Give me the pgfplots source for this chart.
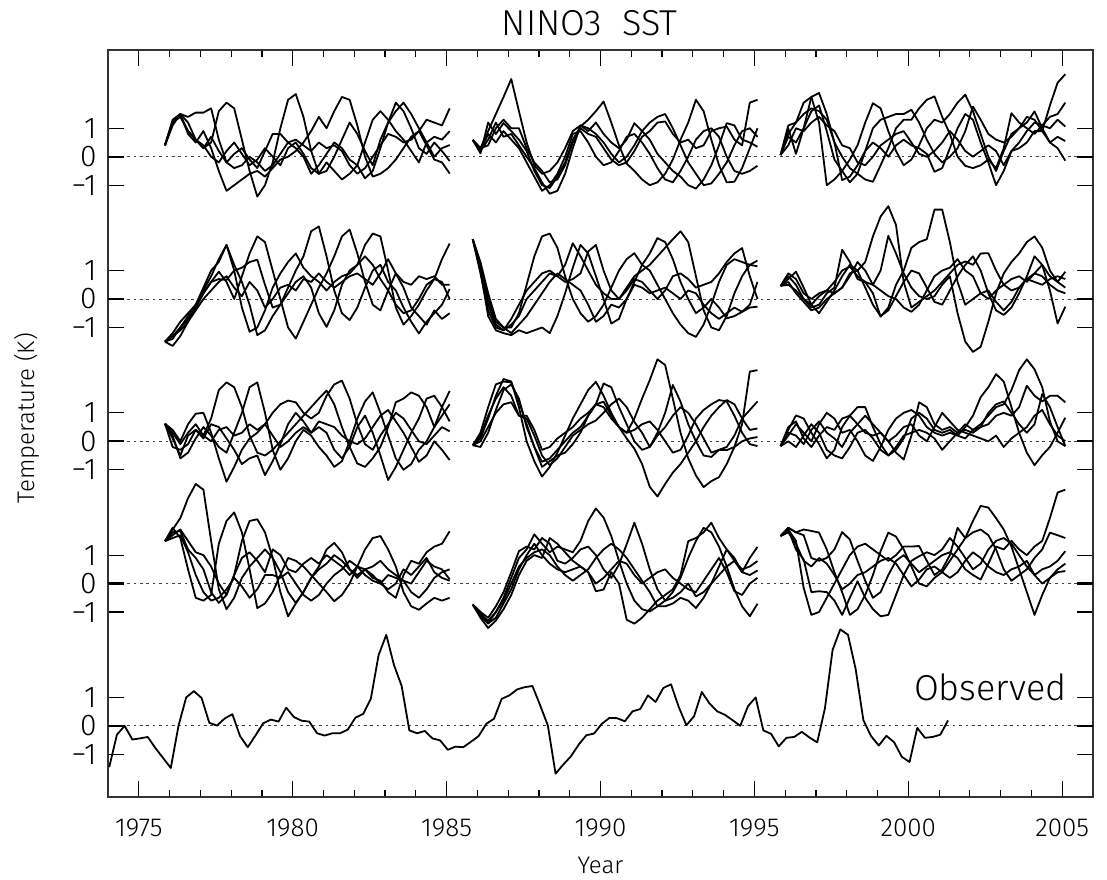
\documentclass[border=0pt]{standalone}
\usepackage{pgfplots}
\pgfplotsset{compat=1.18}
\usepackage{fontspec}
\setmainfont{Fira Sans Light}

% one forecast curve: #1 = start year, #2 = vertical offset of its panel, #3 = quarterly values (K)
\newcommand{\fc}[3]{%
  \addplot[fcline] table[x expr={#1+0.25*\coordindex}, y expr={\thisrowno{0}+#2}, header=false, row sep=\\]{#3};%
}

\begin{document}
\begin{tikzpicture}
\begin{axis}[
  name=ax,
  scale only axis,
  width=492.5pt, height=373.5pt,
  xmin=1974, xmax=2006,
  ymin=-2.5, ymax=23.75,
  /pgf/number format/assume math mode=true,
  axis line style={black!80, line width=0.6pt},
  tick style={black, line width=0.6pt},
  major tick length=8pt,
  minor tick length=3.5pt,
  tick pos=both,
  xtick={1975,1980,1985,1990,1995,2000,2005},
  xticklabels={1975,1980,1985,1990,1995,2000,2005},
  minor x tick num=4,
  ytick={-1,1,4,6,9,11,14,16,19,21},
  yticklabels={−1,1,−1,1,−1,1,−1,1,−1,1},
  extra y ticks={0,5,10,15,20},
  extra y tick labels={0,0,0,0,0},
  extra y tick style={grid=major,
    major grid style={black!75, line width=0.5pt, dash pattern=on 1.3pt off 1.9pt},
    tick style={black, line width=1.2pt}},
  x tick label style={font=\fontsize{13}{13}\selectfont, inner sep=0pt, anchor=north, yshift=-11pt},
  y tick label style={font=\fontsize{15}{15}\selectfont, inner sep=0pt, anchor=east, xshift=-5.5pt},
  xlabel={Year},
  xlabel style={font=\fontsize{12}{12}\selectfont, at={(axis description cs:0.5,0)}, anchor=north, inner sep=0pt, yshift=-30pt},
  ylabel={Temperature (K)},
  ylabel style={font=\fontsize{12}{12}\selectfont, at={(axis description cs:-0.0954,0.507)}, anchor=north, inner sep=0pt},
  title={NINO3\ \ SST},
  title style={font=\fontsize{18}{18}\selectfont, at={(axis description cs:0.489,1)}, anchor=base, inner sep=0pt, yshift=1pt},
  fcline/.style={black, line width=0.9pt, line join=round, mark=none},
]

% ---------- panel 1 (offset 20) ----------
\fc{1975.85}{20}{0.4\\1.2\\1.5\\1.4\\1.55\\1.55\\1.7\\0.6\\-0.2\\-0.4\\-0.3\\0.0\\-0.2\\-0.5\\-0.3\\0.1\\0.5\\0.6\\0.4\\0.2\\0.5\\0.3\\0.4\\0.2\\-0.3\\-0.6\\-0.4\\0.0\\0.4\\0.8\\0.7\\0.5\\0.6\\0.9\\1.3\\1.2\\1.1\\1.7\\}
\fc{1975.85}{20}{0.4\\1.2\\1.45\\0.9\\0.6\\0.3\\0.5\\1.6\\1.9\\1.7\\0.6\\-0.5\\-1.4\\-1.0\\-0.2\\1.0\\2.0\\2.2\\1.4\\0.2\\-0.6\\-0.5\\0.0\\0.6\\1.2\\0.8\\0.2\\-0.3\\0.6\\1.2\\1.9\\1.6\\1.0\\0.3\\0.1\\0.5\\0.2\\-0.15\\}
\fc{1975.85}{20}{0.4\\1.1\\1.5\\0.8\\0.5\\0.9\\0.3\\-0.5\\-1.2\\-1.0\\-0.8\\-0.6\\-0.5\\-0.7\\-0.4\\-0.1\\0.0\\0.2\\0.5\\0.9\\1.4\\1.0\\1.6\\2.1\\2.0\\1.1\\0.0\\-0.7\\-0.6\\-0.4\\-0.1\\0.3\\0.7\\0.9\\0.4\\-0.1\\-0.2\\-0.59\\}
\fc{1975.85}{20}{0.4\\1.2\\1.4\\0.9\\0.6\\0.3\\0.7\\0.2\\-0.2\\0.1\\0.3\\-0.1\\-0.4\\0.2\\0.8\\0.8\\0.5\\0.3\\0.0\\-0.6\\-0.3\\0.1\\0.5\\0.3\\-0.1\\-0.3\\-0.76\\-0.5\\0.3\\1.2\\1.6\\1.9\\1.5\\1.0\\0.5\\0.0\\0.3\\0.41\\}
\fc{1975.85}{20}{0.4\\1.3\\1.5\\1.2\\0.6\\0.4\\0.0\\-0.2\\0.2\\0.5\\0.1\\-0.3\\-0.1\\0.3\\0.0\\-0.3\\0.3\\0.5\\0.1\\-0.4\\-0.6\\-0.2\\-0.5\\-0.8\\-0.6\\-0.3\\0.5\\1.3\\1.6\\1.3\\0.9\\0.6\\0.2\\-0.2\\0.5\\0.7\\0.6\\0.9\\}

\fc{1985.85}{20}{0.59\\0.3\\0.9\\1.5\\2.1\\2.73\\1.6\\0.5\\-0.3\\-0.6\\-0.5\\-0.2\\0.3\\0.9\\1.1\\1.0\\0.8\\0.5\\0.1\\-0.2\\0.0\\0.4\\0.9\\1.2\\1.4\\1.5\\1.0\\0.4\\-0.2\\-0.6\\-1.0\\-0.94\\-0.6\\-0.2\\0.4\\0.9\\1.0\\0.7\\}
\fc{1985.85}{20}{0.59\\0.12\\1.2\\0.8\\1.18\\0.9\\0.6\\0.2\\-0.5\\-1.0\\-1.1\\-0.7\\-0.2\\0.6\\1.06\\1.3\\1.6\\1.94\\1.2\\0.4\\-0.24\\-0.5\\-0.8\\-1.0\\-0.9\\-0.6\\-0.1\\0.6\\1.2\\2.0\\1.6\\0.6\\-0.3\\-0.9\\-0.88\\-0.4\\0.3\\1.0\\}
\fc{1985.85}{20}{0.59\\0.2\\0.6\\1.2\\0.7\\0.8\\0.4\\0.0\\-0.4\\-0.9\\-1.3\\-1.2\\-0.6\\0.3\\1.1\\0.9\\1.2\\0.8\\0.5\\0.3\\0.6\\1.18\\0.9\\0.6\\0.1\\-0.2\\-0.5\\-0.7\\-1.0\\-1.12\\-0.8\\-0.3\\0.4\\1.18\\1.1\\0.6\\0.5\\0.35\\}
\fc{1985.85}{20}{0.59\\0.3\\0.4\\1.0\\1.3\\1.0\\1.0\\0.3\\-0.2\\-0.5\\-0.9\\-0.8\\-0.3\\0.5\\1.0\\0.8\\0.7\\0.3\\-0.1\\-0.3\\-0.2\\0.2\\0.7\\0.9\\1.2\\1.24\\0.8\\0.5\\0.6\\0.3\\0.4\\0.9\\1.0\\1.06\\0.6\\0.4\\1.9\\2.0\\}
\fc{1985.85}{20}{0.59\\0.2\\0.8\\0.5\\0.9\\0.6\\0.3\\-0.2\\-0.7\\-1.2\\-1.0\\-0.6\\0.0\\0.8\\0.9\\0.5\\0.0\\-0.3\\-0.2\\0.2\\0.7\\0.8\\0.5\\0.1\\-0.4\\-0.8\\-0.9\\-0.5\\0.0\\0.6\\0.9\\1.0\\0.7\\0.0\\-0.5\\-0.6\\-0.5\\-0.32\\}

\fc{1995.85}{20}{0.06\\1.0\\0.1\\1.0\\2.1\\2.24\\1.5\\0.5\\-0.82\\-0.7\\-0.3\\0.2\\1.0\\1.3\\1.4\\1.5\\1.5\\1.65\\1.2\\0.6\\0.1\\-0.2\\0.0\\0.3\\0.9\\1.76\\1.3\\0.8\\0.6\\0.5\\0.7\\1.0\\1.2\\1.59\\1.0\\0.5\\0.3\\-0.14\\}
\fc{1995.85}{20}{0.06\\0.8\\1.2\\1.9\\2.1\\1.2\\-1.0\\-0.8\\-0.5\\-0.1\\0.4\\1.2\\1.88\\1.7\\0.9\\0.2\\-0.3\\-0.1\\0.4\\1.0\\1.3\\1.2\\1.5\\1.9\\2.18\\1.6\\0.8\\0.0\\-0.5\\0.2\\0.8\\1.0\\1.4\\1.3\\0.9\\0.5\\0.7\\0.55\\}
\fc{1995.85}{20}{0.06\\1.1\\1.2\\1.5\\1.7\\1.6\\1.3\\0.5\\0.0\\-0.4\\-0.6\\-0.8\\-0.88\\-0.3\\0.3\\1.0\\1.3\\1.3\\1.7\\2.0\\2.12\\1.4\\0.8\\0.0\\-0.32\\-0.4\\-0.3\\-0.1\\-0.4\\0.3\\1.53\\1.2\\1.0\\0.8\\1.1\\1.4\\1.5\\1.9\\}
\fc{1995.85}{20}{0.06\\0.7\\0.5\\1.0\\1.6\\1.8\\0.9\\-0.1\\-0.5\\-0.9\\-0.6\\0.2\\0.5\\0.3\\0.0\\0.4\\0.6\\0.4\\0.3\\0.1\\-0.53\\-0.4\\0.3\\1.0\\1.5\\1.3\\0.5\\-0.2\\-1.0\\-0.5\\0.2\\0.3\\0.5\\0.9\\0.9\\1.8\\2.6\\2.9\\}
\fc{1995.85}{20}{0.06\\0.4\\1.0\\0.9\\1.2\\1.4\\1.1\\0.9\\0.4\\0.3\\-0.2\\-0.3\\0.0\\0.4\\0.6\\0.8\\0.9\\0.5\\0.1\\0.0\\0.2\\0.5\\0.9\\0.6\\0.2\\0.0\\0.2\\0.4\\0.2\\-0.3\\0.2\\0.5\\0.9\\1.2\\1.1\\1.0\\1.3\\1.06\\}

% ---------- panel 2 (offset 15) ----------
\fc{1975.85}{15}{-1.5\\-1.3\\-1.0\\-0.6\\-0.2\\0.3\\0.8\\1.4\\1.9\\1.2\\0.6\\-0.2\\-1.27\\-1.1\\-0.6\\-0.2\\0.4\\1.0\\1.5\\2.38\\2.55\\1.5\\0.3\\-0.5\\-0.74\\-0.3\\0.4\\1.0\\1.2\\0.6\\0.3\\-0.3\\-0.8\\-1.21\\-0.8\\-0.5\\-0.2\\0.35\\}
\fc{1975.85}{15}{-1.5\\-1.65\\-1.3\\-0.8\\-0.3\\0.2\\0.6\\0.96\\0.6\\0.0\\0.8\\1.6\\2.2\\2.0\\1.0\\0.0\\-1.0\\-1.39\\-0.8\\-0.2\\0.4\\0.9\\1.5\\2.2\\2.44\\1.6\\0.6\\-0.2\\-0.4\\0.3\\0.9\\0.6\\0.5\\0.8\\0.7\\0.8\\0.5\\0.5\\}
\fc{1975.85}{15}{-1.5\\-1.2\\-0.8\\-0.5\\-0.2\\0.4\\1.0\\1.3\\1.9\\1.0\\-0.3\\-1.15\\-1.0\\-0.4\\0.4\\0.9\\1.3\\1.6\\1.1\\0.8\\0.6\\0.3\\0.6\\0.8\\0.9\\1.2\\1.9\\2.3\\2.2\\1.0\\-0.3\\-0.9\\-0.6\\-0.2\\0.3\\0.7\\1.4\\1.95\\}
\fc{1975.85}{15}{-1.5\\-1.4\\-1.0\\-0.7\\-0.3\\0.2\\0.6\\0.7\\0.67\\1.0\\1.1\\1.3\\1.38\\0.5\\-0.3\\-0.2\\0.2\\0.6\\0.8\\0.4\\-0.5\\-0.98\\-0.4\\0.5\\1.0\\1.2\\1.5\\1.2\\0.7\\0.3\\-0.2\\-0.5\\-0.4\\0.0\\0.5\\0.7\\0.6\\0.0\\}
\fc{1975.85}{15}{-1.5\\-1.3\\-1.1\\-0.8\\-0.4\\0.0\\0.3\\0.6\\0.8\\0.4\\0.1\\0.6\\0.3\\-0.3\\0.0\\0.4\\0.5\\0.3\\0.7\\0.6\\0.9\\0.6\\0.4\\0.6\\0.8\\0.9\\0.7\\0.5\\0.9\\1.4\\0.9\\0.4\\-0.3\\-0.6\\-0.9\\-0.4\\-0.7\\-0.5\\}

\fc{1985.85}{15}{2.1\\1.2\\0.0\\-0.8\\-1.0\\-1.0\\-0.5\\0.5\\1.5\\2.2\\2.3\\1.8\\0.8\\0.0\\-0.5\\-0.8\\-0.6\\-0.2\\0.4\\1.0\\1.4\\1.61\\1.2\\1.0\\0.5\\0.0\\-0.5\\-0.9\\-1.2\\-1.33\\-0.9\\-0.2\\0.6\\1.2\\1.4\\1.3\\1.2\\1.35\\}
\fc{1985.85}{15}{2.1\\1.0\\-0.6\\-1.1\\-1.2\\-1.27\\-1.1\\-1.2\\-1.1\\-1.0\\-1.2\\-0.6\\0.2\\1.1\\1.9\\1.6\\0.8\\0.0\\-0.86\\-0.7\\0.0\\0.6\\1.2\\1.6\\2.14\\2.0\\1.4\\0.6\\0.0\\-0.5\\-0.3\\0.0\\-0.3\\-0.68\\-0.6\\-0.45\\-0.3\\-0.27\\}
\fc{1985.85}{15}{2.1\\0.9\\-0.4\\-1.0\\-1.1\\-0.7\\-0.2\\0.3\\0.6\\0.9\\1.0\\0.8\\1.2\\1.96\\1.5\\1.0\\0.5\\0.2\\0.0\\0.0\\0.4\\0.8\\1.0\\1.2\\1.5\\1.8\\2.1\\2.38\\2.0\\0.8\\-0.4\\-1.0\\-1.1\\-0.6\\0.2\\0.8\\1.2\\1.15\\}
\fc{1985.85}{15}{2.1\\1.1\\-0.2\\-0.9\\-1.1\\-0.9\\-0.6\\0.0\\0.3\\0.6\\0.9\\0.8\\0.6\\0.7\\0.9\\1.67\\1.9\\1.0\\0.3\\0.0\\0.3\\0.7\\0.6\\0.3\\0.0\\0.3\\0.8\\0.9\\0.7\\0.4\\0.5\\0.6\\0.9\\1.3\\1.6\\1.79\\0.8\\0.0\\}
\fc{1985.85}{15}{2.1\\1.3\\0.2\\-0.7\\-1.0\\-1.2\\-0.9\\-0.6\\-0.2\\0.2\\0.6\\0.9\\0.7\\0.5\\0.3\\-0.2\\-0.8\\-0.6\\-0.2\\-0.3\\0.0\\0.5\\0.4\\0.2\\0.3\\0.4\\0.2\\0.0\\0.3\\0.2\\-0.2\\-0.5\\-0.7\\-0.5\\-0.3\\-0.45\\-0.2\\0.6\\}

\fc{1995.85}{15}{0.46\\0.7\\0.96\\0.4\\-0.2\\-0.5\\-0.1\\0.3\\0.8\\1.2\\1.0\\1.3\\2.2\\2.9\\3.26\\2.6\\0.6\\-0.3\\-0.1\\0.1\\0.3\\0.6\\0.9\\1.2\\1.32\\1.2\\1.6\\1.61\\1.0\\0.5\\0.3\\0.4\\0.7\\0.6\\0.5\\0.7\\0.8\\0.7\\}
\fc{1995.85}{15}{0.46\\0.5\\0.3\\0.0\\-0.2\\0.1\\0.3\\0.6\\1.0\\1.14\\0.8\\0.6\\0.2\\-0.62\\-0.3\\0.5\\1.0\\1.8\\2.0\\2.1\\3.14\\3.14\\2.0\\0.6\\-0.2\\0.0\\0.2\\0.3\\-0.1\\-0.4\\-0.1\\0.4\\0.7\\0.9\\1.2\\0.8\\0.6\\0.4\\}
\fc{1995.85}{15}{0.46\\0.8\\0.5\\0.0\\-0.3\\-0.2\\0.2\\0.4\\1.73\\1.3\\0.7\\0.6\\0.5\\1.0\\2.22\\1.6\\0.9\\0.4\\0.1\\0.0\\0.1\\0.5\\0.8\\-0.5\\-1.5\\-1.86\\-1.68\\-0.8\\0.2\\0.9\\1.3\\1.6\\2.0\\2.2\\1.8\\1.0\\0.6\\0.96\\}
\fc{1995.85}{15}{0.46\\0.6\\0.2\\-0.1\\-0.4\\-0.3\\0.0\\0.2\\0.4\\0.9\\1.0\\0.4\\-0.2\\-0.6\\-0.4\\0.1\\0.6\\1.0\\0.9\\0.4\\-0.1\\-0.2\\0.3\\0.8\\1.2\\1.5\\1.0\\0.2\\-0.4\\-0.56\\-0.3\\0.2\\0.8\\1.5\\1.2\\0.3\\-0.86\\-0.27\\}
\fc{1995.85}{15}{0.46\\0.9\\0.7\\0.2\\0.0\\0.2\\0.3\\0.2\\0.4\\0.8\\1.3\\1.0\\0.5\\0.3\\0.1\\0.0\\-0.3\\-0.45\\-0.2\\0.3\\0.8\\1.0\\1.1\\1.4\\1.0\\0.8\\0.2\\0.0\\0.3\\0.5\\0.7\\0.8\\0.6\\0.9\\0.8\\0.5\\0.3\\0.2\\}

% ---------- panel 3 (offset 10) ----------
\fc{1975.85}{10}{0.62\\0.3\\-0.1\\0.3\\0.6\\0.2\\0.8\\1.8\\2.07\\1.9\\1.2\\0.2\\-0.4\\-0.5\\-0.3\\0.0\\0.3\\0.6\\0.9\\1.2\\1.5\\1.78\\1.3\\0.5\\-0.2\\-0.78\\-0.9\\-0.6\\-0.2\\0.5\\1.37\\1.5\\1.72\\1.6\\1.2\\0.5\\0.9\\1.3\\}
\fc{1975.85}{10}{0.62\\0.2\\-0.6\\-0.4\\0.1\\0.5\\0.2\\-0.2\\-0.4\\0.3\\1.0\\1.9\\2.07\\1.0\\-0.3\\-1.0\\-0.6\\0.0\\0.4\\0.2\\-0.2\\-0.5\\-0.9\\-0.7\\0.0\\0.8\\1.4\\1.72\\1.0\\0.2\\-0.6\\-1.0\\-0.8\\-0.3\\0.0\\0.5\\1.2\\1.77\\}
\fc{1975.85}{10}{0.62\\0.4\\0.0\\0.6\\0.97\\1.0\\0.3\\-0.6\\-1.42\\-0.9\\-0.3\\0.1\\0.3\\0.6\\1.0\\1.3\\1.43\\1.37\\1.0\\0.8\\1.0\\1.6\\2.0\\2.13\\1.5\\0.6\\-0.1\\-0.3\\0.2\\0.6\\1.0\\0.8\\0.4\\0.0\\-0.1\\0.2\\0.5\\0.35\\}
\fc{1975.85}{10}{0.62\\0.1\\-0.5\\0.2\\0.4\\0.1\\0.6\\0.5\\0.1\\-0.3\\-0.8\\-0.6\\-0.5\\-1.19\\-0.7\\-0.1\\0.6\\1.0\\0.7\\0.3\\0.5\\0.3\\-0.3\\-0.6\\-0.2\\0.5\\0.9\\0.3\\-0.5\\-1.36\\-0.9\\-0.3\\0.3\\0.8\\1.5\\1.6\\1.2\\0.7\\}
\fc{1975.85}{10}{0.62\\-0.2\\-0.3\\-0.1\\0.4\\0.2\\0.0\\0.4\\0.5\\0.2\\0.3\\0.6\\0.4\\0.6\\0.2\\-0.2\\0.0\\0.3\\0.5\\0.3\\0.7\\0.6\\0.5\\0.2\\0.0\\-0.1\\0.1\\0.5\\0.9\\1.1\\0.7\\0.3\\-0.2\\-0.72\\-0.5\\0.0\\-0.3\\-0.66\\}

\fc{1985.85}{10}{-0.14\\0.1\\0.8\\1.6\\2.19\\2.1\\1.2\\0.0\\-0.7\\-1.24\\-0.9\\-0.4\\0.2\\0.8\\1.3\\1.8\\2.09\\1.6\\1.0\\0.5\\0.1\\-0.26\\-0.8\\-1.6\\-1.94\\-1.5\\-1.1\\-0.8\\-0.4\\0.0\\0.5\\0.9\\1.2\\1.45\\1.3\\0.8\\0.4\\0.45\\}
\fc{1985.85}{10}{-0.14\\0.3\\1.2\\2.0\\2.1\\2.07\\1.4\\0.6\\-0.2\\-0.72\\-0.6\\-0.3\\0.0\\0.3\\0.5\\0.9\\1.3\\1.39\\0.9\\0.5\\0.3\\0.8\\1.5\\2.15\\2.88\\2.68\\1.5\\0.3\\-0.6\\-1.2\\-1.61\\-1.4\\-1.26\\-0.8\\-0.2\\0.6\\2.45\\2.5\\}
\fc{1985.85}{10}{-0.14\\0.0\\0.5\\1.0\\1.3\\1.37\\0.9\\0.8\\0.2\\-0.5\\-0.84\\-0.6\\-0.2\\0.2\\0.4\\0.6\\0.73\\1.0\\1.3\\1.5\\1.2\\0.68\\0.3\\-0.2\\0.3\\1.0\\1.98\\1.39\\0.6\\0.0\\-0.5\\-0.55\\-0.3\\-0.2\\0.2\\0.8\\1.1\\1.4\\}
\fc{1985.85}{10}{-0.14\\-0.2\\0.3\\1.1\\1.8\\2.0\\1.5\\0.5\\-0.2\\-0.9\\-0.7\\-0.5\\-0.4\\-0.1\\0.3\\0.9\\1.3\\2.03\\1.9\\1.2\\0.6\\0.0\\-0.3\\-0.2\\0.2\\0.5\\0.9\\1.2\\1.0\\0.6\\0.1\\-0.4\\-0.3\\-0.31\\-0.2\\0.0\\0.1\\0.15\\}
\fc{1985.85}{10}{-0.14\\0.2\\0.9\\1.5\\1.9\\1.6\\0.9\\0.9\\0.4\\-0.3\\-0.2\\0.1\\0.3\\0.5\\0.8\\1.0\\1.3\\1.2\\0.8\\0.5\\0.3\\0.4\\0.6\\0.7\\0.4\\0.0\\-0.4\\-0.3\\0.2\\0.8\\1.1\\1.3\\1.45\\1.4\\0.9\\0.3\\-0.1\\-0.17\\}

\fc{1995.85}{10}{-0.17\\0.4\\0.91\\0.8\\0.3\\-0.1\\-0.6\\-0.3\\0.5\\0.9\\1.2\\1.2\\0.5\\-0.1\\-0.5\\-0.3\\0.1\\0.8\\1.0\\0.8\\0.4\\0.3\\0.4\\0.2\\0.5\\0.9\\1.55\\1.9\\2.36\\2.1\\1.2\\0.3\\-0.4\\-0.84\\-0.49\\-0.2\\0.3\\0.83\\}
\fc{1995.85}{10}{-0.17\\0.2\\0.6\\0.3\\0.0\\0.6\\1.0\\0.8\\0.3\\0.4\\0.0\\-0.5\\-0.69\\-0.2\\0.4\\0.8\\1.0\\1.1\\0.9\\0.5\\0.3\\0.2\\0.3\\0.2\\0.1\\0.4\\0.6\\0.9\\1.2\\1.3\\1.8\\2.5\\2.88\\2.53\\1.9\\0.7\\0.0\\-0.17\\}
\fc{1995.85}{10}{-0.17\\0.5\\0.7\\0.1\\-0.2\\0.2\\0.5\\0.4\\0.8\\0.9\\0.6\\0.3\\0.2\\0.3\\0.0\\-0.4\\-0.64\\0.2\\1.37\\1.2\\0.6\\0.4\\0.5\\0.3\\0.4\\0.3\\0.5\\0.6\\0.9\\1.0\\0.9\\1.2\\1.95\\1.6\\1.4\\1.6\\1.6\\1.37\\}
\fc{1995.85}{10}{-0.17\\0.3\\0.2\\-0.1\\0.4\\0.7\\0.3\\0.1\\-0.2\\0.3\\0.6\\0.9\\0.6\\0.3\\0.0\\0.2\\0.5\\0.6\\0.2\\0.0\\0.5\\1.0\\0.7\\0.4\\0.3\\0.2\\0.1\\0.0\\0.2\\-0.2\\0.1\\0.3\\0.5\\0.9\\1.1\\0.6\\0.2\\0.0\\}
\fc{1995.85}{10}{-0.17\\0.0\\-0.2\\0.2\\0.6\\0.3\\-0.3\\-0.5\\-0.6\\-0.2\\0.3\\0.4\\0.1\\-0.3\\-0.5\\-0.2\\0.2\\0.3\\0.4\\0.3\\0.1\\-0.3\\0.0\\0.3\\0.6\\0.4\\0.5\\1.0\\1.3\\1.4\\1.0\\0.6\\0.3\\0.6\\1.66\\1.2\\0.5\\-0.17\\}

% ---------- panel 4 (offset 5) ----------
\fc{1975.85}{5}{1.49\\1.9\\2.3\\3.0\\3.5\\3.3\\1.5\\-0.2\\-0.9\\-0.5\\0.2\\0.6\\0.9\\1.2\\0.9\\0.4\\-0.3\\-0.68\\-0.3\\0.2\\0.5\\0.7\\1.0\\0.8\\0.5\\0.3\\0.5\\0.6\\0.8\\0.5\\0.3\\0.1\\-0.3\\-0.5\\-0.2\\0.2\\0.4\\0.5\\}
\fc{1975.85}{5}{1.49\\1.96\\1.6\\0.5\\-0.5\\-0.6\\-0.4\\1.4\\2.2\\2.5\\1.8\\0.5\\-0.86\\-0.7\\-0.3\\0.3\\0.9\\0.8\\0.6\\0.3\\0.0\\-0.3\\-0.62\\-0.4\\0.0\\0.6\\1.2\\1.6\\1.67\\1.2\\0.6\\-0.3\\-0.8\\-0.92\\-0.7\\-0.5\\-0.6\\-0.5\\}
\fc{1975.85}{5}{1.49\\1.8\\1.85\\1.2\\0.9\\0.5\\-0.3\\-0.68\\-0.4\\0.3\\1.5\\2.2\\2.26\\1.8\\0.9\\-0.3\\-1.15\\-0.7\\-0.3\\0.2\\0.6\\1.2\\1.43\\1.1\\0.5\\0.2\\0.5\\0.3\\0.0\\-0.2\\0.0\\0.5\\0.3\\0.6\\0.9\\0.4\\0.2\\0.1\\}
\fc{1975.85}{5}{1.49\\1.7\\1.9\\1.5\\1.1\\1.0\\0.6\\0.0\\-0.4\\0.3\\0.9\\1.1\\0.8\\0.4\\1.2\\1.0\\0.5\\0.4\\0.7\\0.9\\0.7\\1.0\\0.8\\0.6\\0.3\\0.6\\0.5\\0.2\\0.1\\-0.3\\-0.5\\0.3\\0.8\\0.7\\1.1\\1.3\\1.4\\1.84\\}
\fc{1975.85}{5}{1.49\\1.6\\1.7\\1.1\\0.3\\-0.3\\-0.6\\-0.5\\-0.2\\0.2\\-0.1\\-0.5\\-0.2\\0.3\\0.3\\0.2\\0.4\\0.0\\-0.4\\-0.6\\-0.4\\0.0\\0.3\\0.5\\0.8\\0.6\\0.3\\0.1\\0.0\\0.3\\0.2\\0.1\\0.0\\0.4\\0.8\\0.6\\0.5\\0.15\\}

\fc{1985.85}{5}{-0.74\\-1.15\\-1.4\\-1.0\\-0.5\\0.2\\0.9\\1.2\\1.73\\1.4\\1.1\\1.3\\1.2\\1.1\\1.5\\2.2\\2.64\\2.32\\1.67\\0.8\\0.0\\-0.6\\-0.9\\-0.98\\-0.8\\-0.6\\-0.3\\0.2\\0.9\\1.5\\1.96\\1.8\\1.3\\0.6\\-0.2\\-0.8\\-1.15\\-0.71\\}
\fc{1985.85}{5}{-0.74\\-1.0\\-1.2\\-0.8\\-0.3\\0.4\\1.14\\1.3\\1.2\\1.6\\1.4\\0.8\\0.7\\0.9\\1.2\\1.3\\1.0\\0.5\\0.2\\0.67\\1.38\\2.14\\1.4\\0.5\\-0.2\\-0.6\\-0.5\\-0.3\\0.0\\-0.45\\-0.3\\0.0\\0.3\\0.6\\0.8\\0.5\\0.6\\0.79\\}
\fc{1985.85}{5}{-0.74\\-1.2\\-1.56\\-1.3\\-0.9\\-0.4\\0.3\\0.8\\1.0\\0.9\\1.6\\1.4\\1.1\\0.8\\0.6\\0.4\\-0.27\\-0.21\\0.4\\0.0\\-1.27\\-1.41\\-1.2\\-0.9\\-0.6\\-0.4\\-0.2\\0.3\\1.49\\1.6\\1.8\\2.14\\1.6\\1.2\\0.8\\0.4\\0.9\\1.29\\}
\fc{1985.85}{5}{-0.74\\-1.1\\-1.3\\-1.0\\-0.6\\0.0\\0.6\\0.9\\1.1\\1.2\\1.0\\0.6\\0.3\\0.1\\0.3\\0.5\\0.9\\1.2\\1.4\\1.2\\0.9\\0.5\\0.1\\-0.3\\-0.8\\-0.8\\-0.7\\-0.5\\-0.6\\-0.86\\-0.5\\0.0\\0.6\\1.2\\0.9\\0.4\\0.3\\0.46\\}
\fc{1985.85}{5}{-0.74\\-1.0\\-1.4\\-1.2\\-0.7\\-0.2\\0.5\\1.0\\1.4\\1.0\\0.7\\0.5\\0.4\\0.5\\0.6\\0.4\\0.0\\0.2\\0.5\\0.8\\0.7\\0.3\\0.0\\0.2\\0.4\\0.5\\0.2\\0.0\\-0.2\\-0.3\\0.1\\0.5\\0.9\\0.4\\-0.27\\-0.4\\0.0\\0.2\\}

\fc{1995.85}{5}{1.67\\1.96\\1.8\\1.9\\1.85\\1.79\\1.2\\0.4\\-0.3\\-1.1\\-0.9\\-0.4\\0.3\\1.14\\1.79\\1.65\\1.2\\0.6\\0.0\\-0.1\\0.2\\0.4\\0.8\\1.2\\1.6\\1.8\\1.9\\1.7\\1.2\\0.5\\0.1\\0.3\\0.5\\0.9\\1.2\\1.79\\1.7\\1.6\\}
\fc{1995.85}{5}{1.67\\1.9\\1.5\\-0.15\\-1.1\\-1.0\\-0.5\\0.0\\0.5\\1.0\\1.3\\1.4\\1.2\\1.0\\0.8\\1.0\\1.3\\1.3\\1.32\\0.8\\0.3\\0.5\\1.0\\1.96\\1.6\\2.2\\2.73\\2.67\\2.3\\1.9\\1.3\\0.5\\-0.3\\-1.1\\-0.4\\0.2\\0.5\\0.7\\}
\fc{1995.85}{5}{1.67\\1.9\\1.2\\0.85\\-0.3\\-0.27\\-0.3\\-0.6\\-1.1\\-0.5\\0.08\\-0.5\\-0.9\\-1.15\\-1.1\\-0.4\\0.3\\0.8\\0.96\\1.1\\1.0\\1.2\\1.6\\1.3\\0.9\\0.5\\0.7\\1.2\\1.5\\1.6\\1.4\\1.0\\0.6\\0.3\\0.5\\0.6\\0.8\\1.14\\}
\fc{1995.85}{5}{1.67\\1.96\\1.8\\1.7\\0.9\\0.8\\0.9\\1.2\\1.81\\1.55\\0.8\\0.1\\-0.5\\-0.3\\0.3\\0.8\\1.0\\0.7\\0.4\\0.6\\0.8\\1.0\\1.1\\0.9\\0.5\\0.3\\0.14\\0.7\\1.3\\1.2\\1.5\\1.2\\1.0\\1.3\\1.5\\2.3\\3.2\\3.3\\}
\fc{1995.85}{5}{1.67\\1.8\\1.4\\0.8\\0.6\\0.9\\0.7\\0.3\\-0.2\\0.0\\0.3\\0.4\\0.6\\0.8\\0.9\\0.7\\0.3\\-0.1\\0.14\\0.5\\0.6\\0.4\\0.2\\0.4\\0.8\\1.1\\0.9\\0.6\\0.4\\0.3\\0.5\\0.6\\0.8\\0.3\\0.0\\0.2\\0.4\\0.44\\}

% ---------- observed NINO3 anomaly (quarterly, from 1974) ----------
\addplot[fcline] table[x expr={1974.04+0.25*\coordindex}, y index=0, header=false, row sep=\\]{%
-1.45\\-0.31\\0.0\\-0.48\\-0.44\\-0.39\\-0.78\\-1.13\\
-1.48\\0.0\\1.0\\1.22\\0.98\\0.11\\0.01\\0.26\\
0.41\\-0.36\\-0.75\\-0.34\\0.09\\0.22\\0.15\\0.64\\
0.31\\0.18\\0.15\\-0.26\\-0.34\\-0.26\\-0.26\\-0.13\\
0.29\\0.42\\0.96\\2.48\\3.2\\2.14\\1.4\\-0.16\\
-0.26\\-0.18\\-0.44\\-0.51\\-0.84\\-0.73\\-0.75\\-0.56\\
-0.36\\0.07\\0.25\\0.95\\1.07\\1.28\\1.36\\1.40\\
0.72\\0.01\\-1.68\\-1.36\\-1.07\\-0.66\\-0.33\\-0.27\\
0.07\\0.28\\0.27\\0.16\\0.51\\0.59\\1.07\\0.84\\
1.33\\1.46\\0.67\\0.02\\0.34\\1.19\\0.79\\0.51\\
0.39\\0.20\\0.0\\0.69\\1.0\\-0.16\\-0.28\\-0.72\\
-0.42\\-0.39\\-0.21\\-0.41\\-0.58\\0.61\\2.67\\3.39\\
3.2\\1.99\\0.2\\-0.36\\-0.69\\-0.35\\-0.58\\-1.09\\
-1.27\\-0.07\\-0.42\\-0.39\\-0.31\\0.19\\};
\node[anchor=base east, inner sep=0pt, font=\fontsize{18}{18}\selectfont] at (axis cs:2005.15,0.9) {Observed};
\end{axis}
\pgfresetboundingbox
\path ([shift={(-54pt,-41pt)}]ax.south west) rectangle ([shift={(7pt,25pt)}]ax.north east);
\end{tikzpicture}
\end{document}
